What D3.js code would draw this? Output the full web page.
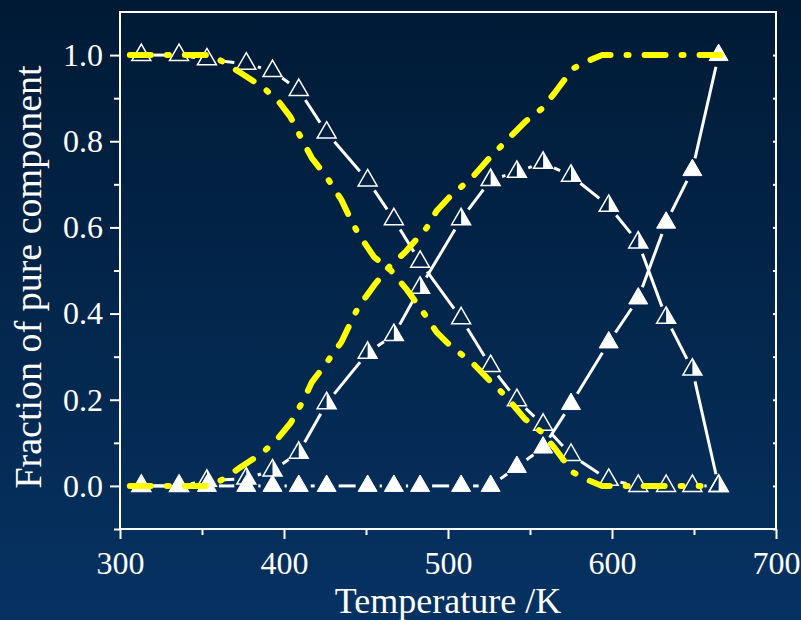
<!DOCTYPE html>
<html>
<head>
<meta charset="utf-8">
<script src="https://cdn.jsdelivr.net/npm/d3@7.9.0/dist/d3.min.js"></script>
<style>
  html, body { margin: 0; padding: 0; }
  body { width: 801px; height: 620px; overflow: hidden; }
  svg text { font-family: "Liberation Serif", "Times New Roman", serif; fill: #fff; }
</style>
</head>
<body>
<div id="chart"></div>
<script>
// temperatures (K) shared by the three measured series
const temps = [313, 336, 353, 377, 393, 409, 426, 451, 467, 483, 508, 526, 542, 558, 575, 598, 616, 633, 649, 665];
// open triangles
const openTri = [1.0, 1.0, 0.99, 0.98, 0.963, 0.919, 0.82, 0.709, 0.619, 0.52, 0.389, 0.278, 0.199, 0.142, 0.072, 0.014, 0, 0, 0, 0];
// half-filled triangles
const halfTri = [0, 0, 0.012, 0.017, 0.036, 0.077, 0.192, 0.309, 0.35, 0.46, 0.619, 0.71, 0.729, 0.75, 0.72, 0.65, 0.565, 0.39, 0.27, 0];
// filled triangles
const filledTri = [0, 0, 0, 0, 0, 0, 0, 0, 0, 0, 0, 0, 0.044, 0.089, 0.19, 0.333, 0.435, 0.611, 0.733, 1.0];

// yellow model curves [T, fraction]
const modelDown = [[306, 1.0], [355, 1.0], [363, 0.984], [373, 0.96], [387, 0.926], [397, 0.891], [404, 0.856],
  [412, 0.796], [417, 0.761], [426, 0.717], [435, 0.664], [440, 0.624], [445, 0.587], [455, 0.531], [465, 0.501],
  [475, 0.455], [486, 0.397], [493, 0.357], [501, 0.327], [515, 0.285], [525, 0.246], [535, 0.209], [547, 0.155],
  [557, 0.125], [565, 0.088], [576, 0.032], [585, 0.014], [594, 0], [654, 0]];
const modelUp = [[306, 0], [355, 0], [363, 0.016], [373, 0.042], [387, 0.077], [396, 0.109], [404, 0.146],
  [412, 0.2], [417, 0.241], [425, 0.281], [435, 0.334], [440, 0.374], [445, 0.413], [455, 0.466], [464, 0.508],
  [474, 0.543], [487, 0.599], [493, 0.638], [501, 0.671], [515, 0.717], [524, 0.756], [533, 0.791], [547, 0.845],
  [557, 0.875], [565, 0.912], [576, 0.968], [585, 0.986], [594, 1.0], [674, 1.0]];

const xTicks = [300, 400, 500, 600, 700];
const yTicks = [0, 0.2, 0.4, 0.6, 0.8, 1.0];

const W = 801, H = 620;
const margin = { top: 12, right: 25, bottom: 91, left: 120 };

const svg = d3.select('#chart').append('svg')
  .attr('width', W).attr('height', H);

// background gradient
const grad = svg.append('defs').append('linearGradient')
  .attr('id', 'bg').attr('x1', 0).attr('y1', 0).attr('x2', 0).attr('y2', 1);
grad.append('stop').attr('offset', '0%').attr('stop-color', '#001a35');
grad.append('stop').attr('offset', '100%').attr('stop-color', '#063262');
svg.append('rect').attr('width', W).attr('height', H).attr('fill', 'url(#bg)');

const x = d3.scaleLinear().domain([300, 700]).range([margin.left, W - margin.right]);
const y = d3.scaleLinear().domain([-0.1, 1.1]).range([H - margin.bottom, margin.top]);

const x0 = x.range()[0], x1 = x.range()[1];
const y0 = y.range()[0], y1 = y.range()[1];

// axes
function styleAxis(g) {
  g.select('.domain').remove();
  g.selectAll('line').attr('stroke', '#fff').attr('stroke-width', 2);
  g.selectAll('text').attr('fill', '#fff').style('font-size', '32px');
}
svg.append('g').attr('transform', `translate(0,${y0})`)
  .call(d3.axisBottom(x).tickValues(xTicks).tickSize(10).tickPadding(12).tickFormat(d3.format('d')))
  .call(styleAxis);
svg.append('g').attr('transform', `translate(0,${y0})`)
  .call(d3.axisBottom(x).tickValues([350, 450, 550, 650]).tickSize(6).tickFormat(''))
  .call(styleAxis);
svg.append('g').attr('transform', `translate(${x0},0)`)
  .call(d3.axisLeft(y).tickValues(yTicks).tickSize(10).tickPadding(7).tickFormat(d3.format('.1f')))
  .call(styleAxis);
svg.append('g').attr('transform', `translate(${x0},0)`)
  .call(d3.axisLeft(y).tickValues([-0.1, 0.1, 0.3, 0.5, 0.7, 0.9]).tickSize(6).tickFormat(''))
  .call(styleAxis);
svg.append('g').attr('transform', `translate(${x1},0)`)
  .call(d3.axisLeft(y).tickValues(d3.range(-0.1, 1.05, 0.1)).tickSize(3).tickFormat(''))
  .call(styleAxis);

// frame
svg.append('rect')
  .attr('x', x0).attr('y', y1).attr('width', x1 - x0).attr('height', y0 - y1)
  .attr('fill', 'none').attr('stroke', '#fff').attr('stroke-width', 2);

// axis titles
svg.append('text')
  .attr('x', (x0 + x1) / 2).attr('y', 613)
  .attr('text-anchor', 'middle').style('font-size', '36px')
  .text('Temperature /K');
svg.append('text')
  .attr('transform', `translate(41,277) rotate(-90)`)
  .attr('text-anchor', 'middle').style('font-size', '38px')
  .text('Fraction of pure component');

// white connecting lines with gaps near symbols
const gap = 12;
function drawSeries(vals, kind) {
  const pts = temps.map((t, i) => [x(t), y(vals[i])]);
  const g = svg.append('g');
  for (let i = 0; i < pts.length - 1; i++) {
    const [ax, ay] = pts[i], [bx, by] = pts[i + 1];
    const d = Math.hypot(bx - ax, by - ay);
    if (d <= 2 * gap) continue;
    const ux = (bx - ax) / d, uy = (by - ay) / d;
    g.append('line')
      .attr('x1', ax + ux * gap).attr('y1', ay + uy * gap)
      .attr('x2', bx - ux * gap).attr('y2', by - uy * gap)
      .attr('stroke', '#fff').attr('stroke-width', 3);
  }
  const tri = d3.symbol().type(d3.symbolTriangle).size(156)();
  const r = Math.sqrt(156 / (3 * Math.sqrt(3)));
  const halfPath = `M0,${-2 * r}L0,${r}L${Math.sqrt(3) * r},${r}Z`;
  const m = g.selectAll('g.m').data(pts).join('g')
    .attr('transform', d => `translate(${d[0]},${d[1]})`);
  if (kind === 'open') {
    m.append('path').attr('d', tri).attr('fill', 'none').attr('stroke', '#fff').attr('stroke-width', 1.5);
  } else if (kind === 'half') {
    m.append('path').attr('d', halfPath).attr('fill', '#fff');
    m.append('path').attr('d', tri).attr('fill', 'none').attr('stroke', '#fff').attr('stroke-width', 1.5);
  } else {
    m.append('path').attr('d', tri).attr('fill', '#fff').attr('stroke', '#fff').attr('stroke-width', 1);
  }
}
drawSeries(openTri, 'open');
drawSeries(halfTri, 'half');
drawSeries(filledTri, 'filled');

// yellow dash-dot model curves
const line = d3.line().x(d => x(d[0])).y(d => y(d[1]));
[modelDown, modelUp].forEach(c => {
  svg.append('path').datum(c)
    .attr('d', line)
    .attr('fill', 'none')
    .attr('stroke', '#ffff00')
    .attr('stroke-width', 6)
    .attr('stroke-linecap', 'round')
    .attr('stroke-linejoin', 'round')
    .attr('stroke-dasharray', '21,16,2,16');
});
</script>
</body>
</html>
